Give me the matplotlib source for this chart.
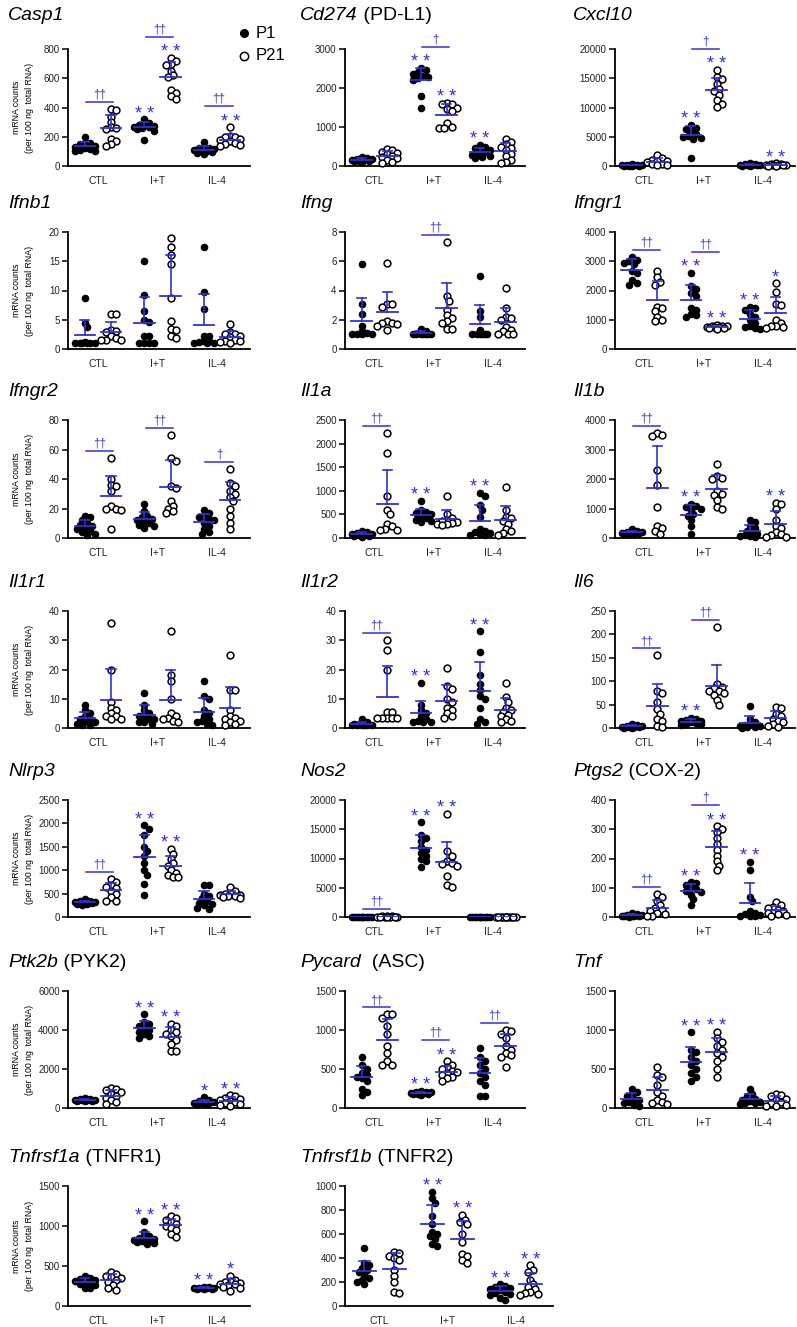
import matplotlib.pyplot as plt
import numpy as np

plt.rcParams['font.family'] = ['Liberation Sans', 'DejaVu Sans']

W, H = 797, 1327
BLUE = '#3030d8'

groups = ['CTL', 'I+T', 'IL-4']

# each panel: CTL P1, CTL P21, I+T P1, I+T P21, IL-4 P1, IL-4 P21
casp1 = [[195, 160, 155, 150, 140, 130, 125, 115, 110, 105, 100],
         [390, 385, 335, 300, 265, 260, 255, 185, 170, 150, 140],
         [320, 295, 285, 280, 275, 270, 265, 260, 250, 240, 175],
         [740, 720, 700, 690, 650, 620, 610, 520, 500, 480, 455],
         [165, 130, 125, 120, 115, 110, 105, 100, 95, 90, 85],
         [265, 205, 200, 195, 185, 175, 170, 160, 150, 145, 140]]
cd274 = [[230, 200, 180, 170, 160, 150, 140, 130, 120, 110],
         [430, 400, 370, 330, 300, 260, 230, 200, 150, 100, 80],
         [2520, 2450, 2400, 2350, 2300, 2280, 2250, 2200, 1800, 1500],
         [1620, 1600, 1580, 1500, 1450, 1400, 1100, 1000, 970, 980],
         [550, 500, 450, 420, 400, 350, 300, 280, 250, 220, 200],
         [700, 620, 560, 500, 450, 400, 300, 250, 150, 100, 80]]
cxcl10 = [[300, 250, 200, 150, 120, 100, 80, 60, 50, 40],
          [1800, 1300, 1100, 900, 800, 600, 400, 300, 200, 100],
          [7000, 6500, 6300, 6000, 5500, 5200, 5000, 4800, 4700, 1300],
          [16400, 15200, 14800, 14000, 13200, 12800, 12200, 11300, 10600, 10100],
          [500, 400, 300, 250, 200, 150, 120, 100, 80, 60],
          [450, 350, 300, 250, 200, 150, 120, 100, 80, 60]]
ifnb1 = [[8.8, 4.5, 3.7, 1.2, 1.1, 1.0, 1.0, 1.0, 1.0, 1.0],
         [5.9, 5.9, 3.2, 3.1, 2.9, 2.3, 1.8, 1.6, 1.6, 1.5],
         [15.1, 9.3, 6.5, 4.9, 4.6, 2.2, 2.2, 1.0, 1.0, 1.0, 1.0],
         [19.0, 17.5, 16.0, 14.5, 8.7, 4.8, 3.5, 3.2, 2.2, 1.8],
         [17.5, 9.7, 6.8, 2.3, 2.2, 1.4, 1.3, 1.2, 1.1, 1.0, 1.0],
         [4.2, 2.9, 2.6, 2.5, 2.2, 2.0, 1.6, 1.4, 1.3, 1.2, 1.0]]
ifng = [[5.8, 3.1, 2.4, 1.6, 1.2, 1.1, 1.0, 1.0, 1.0, 1.0],
        [5.9, 3.1, 3.1, 2.9, 1.9, 1.8, 1.7, 1.8, 1.6, 1.3],
        [1.4, 1.2, 1.1, 1.0, 1.0, 1.0, 1.0, 1.0, 1.0, 1.0],
        [7.3, 3.6, 3.3, 2.7, 2.3, 2.1, 1.9, 1.8, 1.4, 1.4],
        [5.0, 2.6, 2.2, 1.3, 1.0, 1.0, 1.0, 1.0, 1.0, 1.0],
        [4.2, 2.8, 2.2, 2.1, 2.0, 1.5, 1.3, 1.2, 1.0, 1.0, 1.0]]
ifngr1 = [[3150, 3050, 3000, 2950, 2900, 2650, 2600, 2350, 2250, 2200],
          [2650, 2450, 2300, 2200, 1450, 1400, 1300, 1100, 1000, 950],
          [2600, 2150, 2050, 1900, 1800, 1400, 1350, 1200, 1150, 1100],
          [820, 800, 780, 770, 760, 750, 740, 730, 720, 700],
          [1450, 1400, 1350, 1200, 1100, 1000, 900, 800, 750, 720, 700],
          [2250, 1950, 1550, 1500, 1000, 900, 800, 780, 750, 720]]
ifngr2 = [[15, 14, 12, 10, 9, 8, 7, 6, 5, 4, 3, 2],
          [54, 40, 36, 35, 32, 22, 20, 19, 20, 6],
          [23, 18, 15, 14, 13, 12, 11, 10, 9, 8, 7],
          [70, 54, 52, 35, 34, 25, 22, 20, 18, 17],
          [19, 17, 15, 14, 13, 12, 10, 8, 6, 4, 3],
          [47, 37, 35, 32, 30, 28, 25, 20, 15, 10, 6]]
il1a = [[150, 130, 100, 90, 80, 70, 60, 50, 40, 30],
        [2230, 1800, 900, 600, 500, 300, 250, 200, 180, 170],
        [780, 600, 550, 520, 500, 450, 420, 380, 350, 330],
        [880, 500, 420, 380, 350, 330, 310, 300, 290, 280],
        [950, 900, 700, 600, 450, 200, 150, 120, 100, 80, 70, 60],
        [1080, 600, 450, 420, 350, 300, 200, 150, 100, 60]]
il1b = [[300, 250, 220, 200, 180, 170, 160, 150, 140, 130],
        [3550, 3500, 3450, 2300, 1800, 1050, 400, 350, 250, 150],
        [1150, 1100, 1050, 1000, 950, 800, 750, 600, 400, 150],
        [2500, 2100, 2050, 2000, 1600, 1500, 1450, 1300, 1050, 1000],
        [600, 550, 400, 350, 250, 200, 150, 100, 80, 60, 50],
        [1200, 1150, 1000, 600, 400, 350, 200, 150, 100, 50, 40]]
il1r1 = [[8, 6, 5, 4, 3, 3, 2, 2, 1.5, 1, 1],
         [36, 20, 9, 7, 6, 5, 4, 4, 3, 3],
         [12, 8, 6, 5, 4, 4, 3, 3, 2, 2, 1.5],
         [33, 18, 16, 10, 5, 4, 3.5, 3, 2.5, 2],
         [16, 11, 10, 6, 5, 4, 3, 2.5, 2, 1.5, 1],
         [25, 13, 13, 6, 4, 3.5, 3, 2.5, 2, 1.5, 1]]
il1r2 = [[3, 2, 1.5, 1.2, 1, 1, 1, 1, 1, 1],
         [30, 26.5, 20, 5.5, 5.5, 3.5, 3.5, 3.5, 3.5, 3.5],
         [15.5, 8, 6, 5, 4, 3, 2.5, 2, 2, 2],
         [20.5, 14.5, 13.5, 10, 9, 7, 6, 5, 4, 3.5],
         [33, 26, 18, 15, 13, 11, 10, 7, 3, 2, 1.5],
         [15.5, 10.5, 9, 7, 6, 5.5, 4.5, 4, 3, 2.5, 2]]
il6 = [[8, 6, 5, 4, 3, 3, 2, 2, 1, 1],
       [155, 80, 75, 55, 40, 30, 20, 15, 5, 2],
       [22, 20, 18, 15, 14, 12, 10, 9, 8, 7],
       [215, 95, 88, 85, 80, 78, 75, 70, 60, 50],
       [48, 20, 12, 8, 6, 5, 4, 3, 2, 1],
       [45, 43, 30, 25, 20, 15, 12, 8, 5, 3]]
nlrp3 = [[380, 350, 340, 320, 310, 300, 290, 280, 270, 260],
         [820, 750, 680, 650, 620, 550, 500, 430, 350, 350],
         [1960, 1880, 1750, 1500, 1400, 1300, 1150, 1000, 900, 700, 480],
         [1450, 1350, 1250, 1150, 1100, 1000, 950, 900, 850, 850],
         [680, 680, 500, 450, 400, 350, 300, 280, 250, 200, 170],
         [650, 560, 520, 500, 480, 460, 450, 440, 420, 400]]
nos2 = [[60, 50, 40, 30, 20, 20, 10, 10, 10, 10],
        [150, 120, 100, 80, 60, 50, 40, 30, 20, 20],
        [16200, 14000, 13500, 13000, 12000, 11500, 11000, 10500, 10000, 9500, 8500],
        [17600, 11200, 10500, 9500, 9200, 9000, 8800, 7000, 5500, 5200],
        [40, 30, 20, 20, 10, 10, 10, 10, 10, 10],
        [40, 30, 20, 20, 10, 10, 10, 10, 10, 10]]
ptgs2 = [[15, 10, 8, 6, 5, 4, 3, 2, 2, 1],
         [80, 70, 55, 40, 30, 25, 20, 15, 10, 5, 2],
         [118, 115, 110, 100, 95, 90, 85, 75, 60, 42],
         [310, 300, 290, 270, 250, 230, 210, 190, 175, 160],
         [188, 160, 70, 55, 20, 15, 10, 8, 5, 3, 2],
         [50, 40, 35, 30, 25, 20, 15, 12, 10, 8, 5]]
ptk2b = [[500, 480, 450, 430, 420, 400, 390, 380, 370, 360],
         [1050, 950, 900, 800, 700, 600, 500, 400, 300, 200],
         [4800, 4400, 4300, 4200, 4100, 4000, 3900, 3800, 3700, 3600],
         [4300, 4200, 4000, 3900, 3800, 3700, 3500, 3300, 2900, 2900],
         [550, 400, 350, 300, 280, 260, 250, 240, 230, 220],
         [650, 600, 500, 450, 400, 350, 300, 250, 200, 150, 100]]
pycard = [[650, 550, 500, 450, 420, 400, 380, 350, 250, 200, 170],
          [1200, 1200, 1150, 1050, 950, 800, 700, 600, 550, 550],
          [220, 210, 200, 200, 195, 190, 185, 180, 175, 170],
          [600, 550, 520, 500, 480, 460, 450, 420, 400, 380, 350],
          [770, 650, 600, 550, 500, 450, 400, 350, 300, 150, 150],
          [1000, 990, 950, 900, 800, 750, 700, 680, 650, 530]]
tnf = [[250, 200, 180, 150, 120, 100, 80, 60, 40, 30],
       [520, 420, 400, 300, 200, 150, 100, 80, 60, 50],
       [970, 750, 720, 650, 600, 550, 500, 450, 400, 350],
       [980, 900, 850, 800, 750, 700, 650, 600, 500, 400],
       [240, 180, 150, 120, 100, 90, 80, 70, 60, 50],
       [180, 170, 150, 120, 100, 80, 60, 40, 30, 20]]
tnfrsf1a = [[370, 350, 340, 320, 310, 300, 290, 280, 260, 230, 220],
            [430, 400, 380, 360, 350, 330, 300, 260, 220, 200],
            [1060, 930, 880, 860, 850, 840, 830, 820, 810, 800, 790, 780],
            [1120, 1100, 1080, 1050, 1030, 1000, 980, 950, 900, 860],
            [240, 235, 230, 228, 225, 222, 220, 218, 215, 212],
            [380, 330, 310, 300, 290, 280, 270, 260, 240, 220, 190]]
tnfrsf1b = [[480, 360, 340, 320, 300, 280, 260, 230, 220, 200, 180],
            [450, 440, 420, 400, 380, 300, 250, 200, 120, 110],
            [950, 900, 860, 750, 680, 620, 600, 580, 560, 520, 500],
            [760, 720, 700, 680, 600, 530, 430, 420, 380, 360],
            [180, 170, 160, 150, 140, 130, 120, 110, 100, 90, 70, 50],
            [340, 300, 280, 220, 180, 160, 140, 120, 110, 100, 90]]

titles = [("Casp1", ""), ("Cd274", " (PD-L1)"), ("Cxcl10", ""),
          ("Ifnb1", ""), ("Ifng", ""), ("Ifngr1", ""),
          ("Ifngr2", ""), ("Il1a", ""), ("Il1b", ""),
          ("Il1r1", ""), ("Il1r2", ""), ("Il6", ""),
          ("Nlrp3", ""), ("Nos2", ""), ("Ptgs2", " (COX-2)"),
          ("Ptk2b", " (PYK2)"), ("Pycard", "  (ASC)"), ("Tnf", ""),
          ("Tnfrsf1a", " (TNFR1)"), ("Tnfrsf1b", " (TNFR2)")]
ymax = [800, 3000, 20000, 20, 8, 4000, 80, 2500, 4000, 40,
        40, 250, 2500, 20000, 400, 6000, 1500, 1500, 1500, 1000]
ystep = [200, 1000, 5000, 5, 2, 1000, 20, 500, 1000, 10,
         10, 50, 500, 5000, 100, 2000, 500, 500, 500, 200]
stars = [['', '', '**', '**', '', '**'], ['', '', '**', '**', '**', ''],
         ['', '', '**', '**', '', '**'], ['', '', '', '', '', ''],
         ['', '', '', '', '', ''], ['', '', '**', '**', '**', '*'],
         ['', '', '', '', '', ''], ['', '', '**', '', '**', ''],
         ['', '', '**', '', '', '**'], ['', '', '', '', '', ''],
         ['', '', '**', '', '**', ''], ['', '', '**', '', '', ''],
         ['', '', '**', '**', '', ''], ['', '', '**', '**', '', ''],
         ['', '', '**', '**', '**', ''], ['', '', '**', '**', '*', '**'],
         ['', '', '**', '**', '', ''], ['', '', '**', '**', '', ''],
         ['', '', '**', '**', '**', '*'], ['', '', '**', '**', '**', '**']]
daggers = [['††', '††', '††'], ['', '†', ''], ['', '†', ''],
           ['', '', ''], ['', '††', ''], ['††', '††', ''],
           ['††', '††', '†'], ['††', '', ''], ['††', '', ''],
           ['', '', ''], ['††', '', ''], ['††', '††', ''],
           ['††', '', ''], ['††', '', ''], ['††', '†', ''],
           ['', '', ''], ['††', '††', '††'], ['', '', ''],
           ['', '', ''], ['', '', '']]
panels = [casp1, cd274, cxcl10, ifnb1, ifng, ifngr1, ifngr2, il1a, il1b, il1r1,
          il1r2, il6, nlrp3, nos2, ptgs2, ptk2b, pycard, tnf, tnfrsf1a, tnfrsf1b]

# layout in pixels
row_top = [49, 232, 420, 611, 800, 991, 1186]
row_h = [117, 117, 118, 117, 117, 117, 120]
col_left = [68, 345, 615]
col_w = [182, 180, 180]
title_x = [8, 300, 573]
XLIM = (-0.5, 2.55)


def swarm(vals, top, hpx, ppu, d=5.0, half=12.0):
    # compact beeswarm in pixel space, overlap allowed when crowded
    vals = np.asarray(vals, float)
    order = np.argsort(-vals)
    placed = []
    offs = np.zeros(len(vals))
    steps = [0.0]
    k = 1
    while k * d / 2 <= half:
        steps += [k * d / 2, -k * d / 2]
        k += 1
    for i in order:
        y = vals[i] / top * hpx
        best, best_gap = 0.0, -1
        for s in steps:
            gap = min([np.hypot(s - px, y - py) for px, py in placed] or [99])
            if gap >= d:
                best = s
                break
            if gap > best_gap:
                best, best_gap = s, gap
        placed.append((best, y))
        offs[i] = best / ppu
    return offs


fig = plt.figure(figsize=(W / 100, H / 100), dpi=100)
renderer = fig.canvas.get_renderer()

for i, data in enumerate(panels):
    r, c = divmod(i, 3)
    left, top_px, h = col_left[c], row_top[r], row_h[r]
    w = 208 if i == 19 else col_w[c]
    ax = fig.add_axes([left / W, 1 - (top_px + h) / H, w / W, h / H])
    ym = ymax[i]
    ppu = w / (XLIM[1] - XLIM[0])
    dpp = ym / h  # data units per pixel

    tops = []
    for j, vals in enumerate(data):
        g = j // 2
        x0 = g - 0.22 if j % 2 == 0 else g + 0.22
        xs = x0 + swarm(vals, ym, h, ppu)
        if j % 2 == 0:
            ax.scatter(xs, vals, s=20, color='black', zorder=3, clip_on=False)
        else:
            ax.scatter(xs, vals, s=24, facecolor='white', edgecolor='black',
                       linewidth=1.1, zorder=3, clip_on=False)
        m, sd = np.mean(vals), np.std(vals, ddof=1)
        ax.plot([x0 - 0.17, x0 + 0.17], [m, m], color=BLUE, lw=1.3, zorder=4)
        ax.plot([x0, x0], [m, m + sd], color=BLUE, lw=1.2, zorder=4)
        ax.plot([x0 - 0.08, x0 + 0.08], [m + sd, m + sd], color=BLUE, lw=1.2, zorder=4)
        t = max(max(vals), m + sd)
        if stars[i][j]:
            ax.annotate(' '.join(stars[i][j]), (x0, t), xytext=(0, 0.5),
                        textcoords='offset points', ha='center', va='baseline',
                        color=BLUE, fontsize=13, annotation_clip=False)
            t += 14 * dpp
        tops.append(t)

    for g in range(3):
        if daggers[i][g]:
            yl = max(tops[2 * g], tops[2 * g + 1]) + 7 * dpp
            ax.plot([g - 0.2, g + 0.26], [yl, yl], color=BLUE, lw=1.1, clip_on=False)
            ax.annotate(daggers[i][g], (g + 0.03, yl), xytext=(0, 1),
                        textcoords='offset points', ha='center', va='bottom',
                        color=BLUE, fontsize=8.5, annotation_clip=False)

    ax.set_xlim(*XLIM)
    ax.set_ylim(0, ym)
    ticks = np.arange(0, ym + ystep[i] / 2, ystep[i])
    ax.set_yticks(ticks)
    ax.set_yticklabels([f"{v:g}" for v in ticks])
    ax.set_xticks([0, 1, 2])
    ax.set_xticklabels(groups)
    for s in ['top', 'right']:
        ax.spines[s].set_visible(False)
    for s in ['left', 'bottom']:
        ax.spines[s].set_linewidth(1.3)
    ax.tick_params(axis='y', length=4, width=1.1, pad=2, labelsize=7, labelcolor='#222222')
    ax.tick_params(axis='x', length=0, pad=7, labelsize=7.5, labelcolor='#222222')

    # title: italic gene symbol plus plain protein name
    ty = 1 - (top_px - (29 if r == 0 else 24)) / H
    tx = title_x[c] / W
    t1 = fig.text(tx, ty, titles[i][0], fontsize=14, style='italic', va='baseline')
    if titles[i][1]:
        bb = t1.get_window_extent(renderer)
        fig.text(bb.x1 / W, ty, titles[i][1], fontsize=14, va='baseline')

    if c == 0:
        fig.text(23 / W, 1 - (top_px + h / 2) / H, "mRNA counts\n(per 100 ng  total RNA)",
                 rotation=90, ha='center', va='center', fontsize=6.3, linespacing=1.6)

# legend
fig.add_artist(plt.Line2D([244 / W], [1 - 33 / H], marker='o', markersize=5.5,
                          color='black', linestyle=''))
fig.add_artist(plt.Line2D([244 / W], [1 - 56 / H], marker='o', markersize=6,
                          markerfacecolor='white', markeredgecolor='black',
                          markeredgewidth=1.1, linestyle=''))
fig.text(256 / W, 1 - 33 / H, "P1", fontsize=12, va='center')
fig.text(256 / W, 1 - 56 / H, "P21", fontsize=12, va='center')

fig.savefig('out.png', dpi=100)
